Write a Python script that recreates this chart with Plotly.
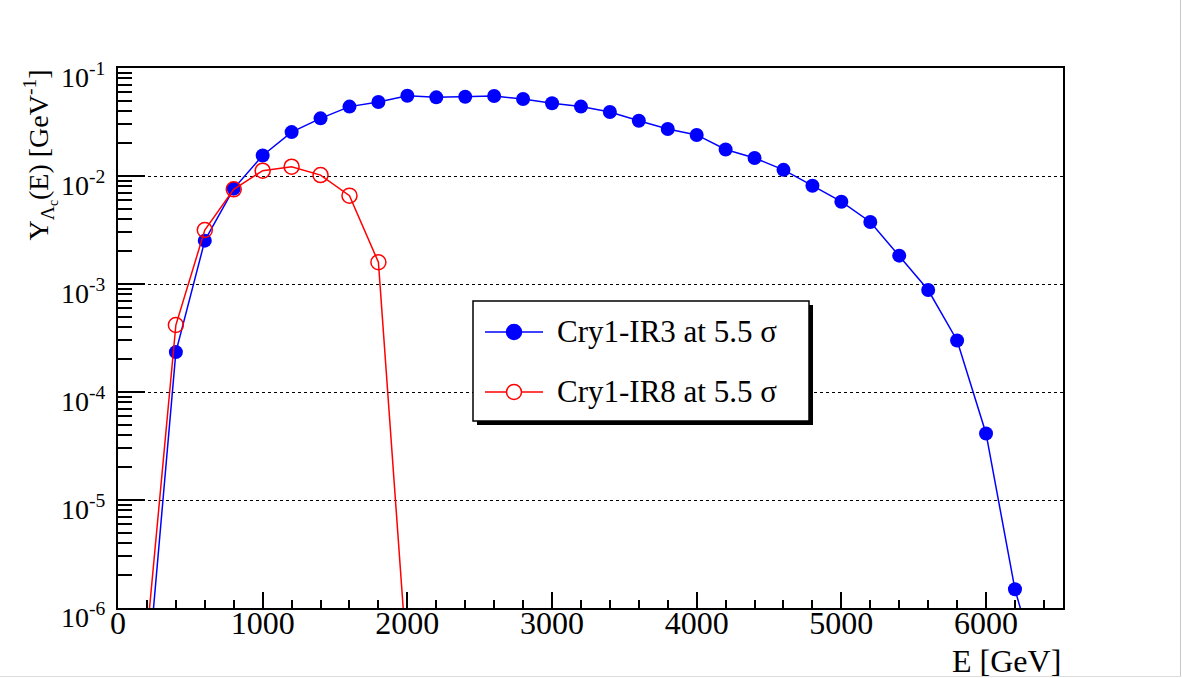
import plotly.graph_objects as go

# ---------------- data ----------------
energy_ir3 = [200, 400, 600, 800, 1000, 1200, 1400, 1600, 1800, 2000, 2200, 2400, 2600,
              2800, 3000, 3200, 3400, 3600, 3800, 4000, 4200, 4400, 4600, 4800, 5000,
              5200, 5400, 5600, 5800, 6000, 6200, 6400]
yield_ir3 = [2.0e-7, 2.34e-4, 2.52e-3, 7.64e-3, 1.55e-2, 2.55e-2, 3.42e-2, 4.39e-2, 4.84e-2,
             5.53e-2, 5.35e-2, 5.42e-2, 5.50e-2, 5.16e-2, 4.71e-2, 4.39e-2, 3.92e-2,
             3.25e-2, 2.72e-2, 2.40e-2, 1.76e-2, 1.47e-2, 1.14e-2, 8.13e-3, 5.78e-3,
             3.75e-3, 1.83e-3, 8.79e-4, 3.0e-4, 4.13e-5, 1.49e-6, 1.7e-7]

energy_ir8 = [200, 400, 600, 800, 1000, 1200, 1400, 1600, 1800, 2000]
yield_ir8 = [5.5e-7, 4.17e-4, 3.16e-3, 7.53e-3, 1.12e-2, 1.22e-2, 1.02e-2, 6.58e-3,
             1.59e-3, 2.9e-7]

label_ir3 = "Cry1-IR3 at 5.5 σ"
label_ir8 = "Cry1-IR8 at 5.5 σ"

x_range = [0, 6532]
y_decades = [-6, -5, -4, -3, -2, -1]
y_ticktext = ["10<sup>-6</sup>", "10<sup>-5</sup>", "10<sup>-4</sup>",
              "10<sup>-3</sup>", "10<sup>-2</sup>", "10<sup>-1</sup>"]

BLUE = "#0000ff"
RED = "#ff0000"
FONT = "Liberation Serif"

# ---------------- layout geometry ----------------
W, H = 1182, 678
L, R, T, B = 118, 119, 68, 70
PW, PH = W - L - R, H - T - B


def px(xp):
    return (xp - L) / PW


def py(yp):
    return (H - B - yp) / PH


fig = go.Figure()

fig.add_trace(go.Scatter(
    x=energy_ir3, y=yield_ir3, mode="lines+markers", name=label_ir3,
    line=dict(color=BLUE, width=1.5),
    marker=dict(symbol="circle", size=14, color=BLUE),
    showlegend=False, cliponaxis=True))

fig.add_trace(go.Scatter(
    x=energy_ir8, y=yield_ir8, mode="lines+markers", name=label_ir8,
    line=dict(color=RED, width=1.5),
    marker=dict(symbol="circle-open", size=15, color=RED, line=dict(width=1.5)),
    showlegend=False, cliponaxis=True))

minor_vals = [k * 10.0 ** d for d in y_decades[:-1] for k in range(2, 10)]

fig.update_xaxes(
    range=x_range, showline=True, linecolor="black", linewidth=2, mirror=True,
    ticks="inside", ticklen=16, tickwidth=1.5, tickcolor="black",
    tick0=0, dtick=1000, showgrid=False, zeroline=False,
    tickfont=dict(family=FONT, size=32, color="black"),
    ticklabelstandoff=-14,
    minor=dict(ticks="inside", ticklen=8, tickwidth=1.5, tickcolor="black",
               dtick=200, tick0=0, showgrid=False))

fig.update_yaxes(
    type="log", range=[y_decades[0], y_decades[-1]],
    showline=True, linecolor="black", linewidth=2, mirror=True,
    ticks="inside", ticklen=27, tickwidth=1.5, tickcolor="black",
    tickmode="array", tickvals=[10.0 ** d for d in y_decades], ticktext=y_ticktext,
    showgrid=True, gridcolor="black", gridwidth=1, griddash="dot",
    zeroline=False,
    tickfont=dict(family=FONT, size=28, color="black"),
    ticklabelstandoff=5, ticklabelshift=9,
    minor=dict(ticks="inside", ticklen=14, tickwidth=1.5, tickcolor="black",
               tickmode="array", tickvals=minor_vals, showgrid=False))

shapes = []
annotations = []

# legend box (shadow + frame)
lx0, lx1, ly0, ly1 = 473, 809, 301, 421
shapes.append(dict(type="rect", xref="paper", yref="paper",
                   x0=px(lx0 + 4), x1=px(lx1 + 4), y0=py(ly1 + 4), y1=py(ly0 + 4),
                   fillcolor="black", line=dict(width=0), layer="above"))
shapes.append(dict(type="rect", xref="paper", yref="paper",
                   x0=px(lx0), x1=px(lx1), y0=py(ly1), y1=py(ly0),
                   fillcolor="white", line=dict(color="black", width=1.5), layer="above"))

entries = [(label_ir3, BLUE, True, 332), (label_ir8, RED, False, 392)]
for text, col, filled, ypix in entries:
    shapes.append(dict(type="line", xref="paper", yref="paper",
                       x0=px(485), x1=px(543), y0=py(ypix), y1=py(ypix),
                       line=dict(color=col, width=1.5), layer="above"))
    r = 7.5
    shapes.append(dict(type="circle", xref="paper", yref="paper",
                       x0=px(514 - r), x1=px(514 + r), y0=py(ypix + r), y1=py(ypix - r),
                       fillcolor=col if filled else "white",
                       line=dict(color=col, width=1.5), layer="above"))
    annotations.append(dict(text=text, xref="paper", yref="paper",
                            x=px(555), y=py(ypix - 1), xanchor="left", yanchor="middle",
                            showarrow=False,
                            font=dict(family=FONT, size=31, color="black")))

# canvas edge lines (light gray)
shapes.append(dict(type="line", xref="paper", yref="paper",
                   x0=px(1180.5), x1=px(1180.5), y0=py(677), y1=py(0),
                   line=dict(color="#c8c8c8", width=1)))
shapes.append(dict(type="line", xref="paper", yref="paper",
                   x0=px(0), x1=px(1181), y0=py(676.5), y1=py(676.5),
                   line=dict(color="#dddddd", width=1)))

# axis titles
annotations.append(dict(text="E [GeV]", xref="paper", yref="paper",
                        x=1, y=py(661), xanchor="right", yanchor="middle",
                        showarrow=False, font=dict(family=FONT, size=32, color="black")))
annotations.append(dict(text="Y<sub>Λ<sub>c</sub></sub>(E) [GeV<sup>-1</sup>]",
                        xref="paper", yref="paper",
                        x=px(40), y=1.0, xanchor="center", yanchor="top",
                        textangle=-90, showarrow=False,
                        font=dict(family=FONT, size=28, color="black")))

fig.update_layout(
    width=W, height=H, autosize=False,
    margin=dict(l=L, r=R, t=T, b=B, pad=0),
    paper_bgcolor="white", plot_bgcolor="white",
    showlegend=False, shapes=shapes, annotations=annotations)

fig.write_html("out.html")
